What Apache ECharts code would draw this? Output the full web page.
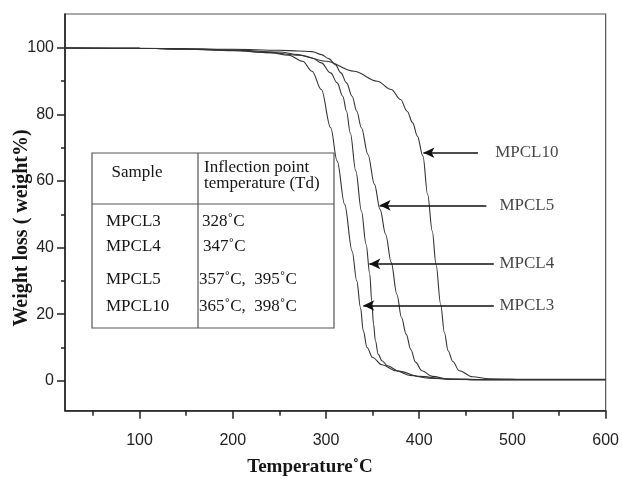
<!DOCTYPE html>
<html><head><meta charset="utf-8">
<script src="https://cdn.jsdelivr.net/npm/echarts@6/dist/echarts.min.js"></script>
<style>html,body{margin:0;padding:0;background:#fff}#c{width:622px;height:478px}</style>
</head><body><div id="c"></div>
<script>
// ---- axis ticks ----
const xMajor = [100, 200, 300, 400, 500, 600];
const xMinor = [50, 150, 250, 350, 450, 550];
const yMajor = [0, 20, 40, 60, 80, 100];
const yMinor = [10, 30, 50, 70, 90];

// ---- series (temperature °C, weight %) ----
const temp3 = [20,100,150,200,240,260,275,285,295,305,312,320,328,333,337,340,344,350,360,375,390,410,440,500,600];
const wt3   = [100,99.9,99.7,99.3,98.6,97.8,96,93,87.5,76,66,53,39,30,22,15,10,7,4.8,3,1.6,0.8,0.4,0.3,0.3];

const temp4 = [20,100,150,200,250,270,285,295,305,312,318,322,326,332,338,343,347,349,351,353,356,360,366,378,400,430,470,600];
const wt4   = [100,99.9,99.7,99.4,98.8,98,97,95.5,92.5,89.5,85.5,81,74.5,63,51,41,32,24,17,12,8,6,4.5,2.9,1.3,0.5,0.3,0.3];

const temp5 = [20,100,150,200,250,270,285,295,303,310,316,322,328,333,338,345,352,358,364,370,376,381,386,391,396,403,414,432,470,600];
const wt5   = [100,99.9,99.8,99.6,99.3,99.1,98.9,98,96.8,95,92.5,89.5,85.5,81,76,68,59,51.5,44,35.5,26,19,14,9.4,5.6,3,1.3,0.5,0.3,0.3];

const temp10 = [20,100,150,200,240,272,300,330,355,370,380,387,393,398,404,409,414,418,423,427,431,436,443,457,475,520,600];
const wt10   = [100,99.9,99.6,99.2,98.6,97.8,96,93,90,87.5,84.5,81,77.5,73.5,67.5,56,45,35,23,14.5,9,5.8,3,1.2,0.6,0.4,0.4];

// ---- annotations: arrows (tail temp, head temp, weight) and labels ----
const arrowNames = ['MPCL10', 'MPCL5', 'MPCL4', 'MPCL3'];
const arrowTail  = [463, 472, 480, 480];
const arrowHead  = [404.5, 357.5, 346.5, 340];
const arrowY     = [68.5, 52.7, 35.1, 22.6];
const labelX     = [481.5, 486, 486, 486];

// ---- table ----
const tableHeader = ['Sample', 'Inflection point', 'temperature (Td)'];
const tableSamples = ['MPCL3', 'MPCL4', 'MPCL5', 'MPCL10'];
const tableTd = ['328\u02DAC', '347\u02DAC', '357\u02DAC,  395\u02DAC', '365\u02DAC,  398\u02DAC'];

const zip = (a, b) => a.map((v, i) => [v, b[i]]);

const lineColor = '#333';
function curve(name, xs, ys) {
  return {
    name, type: 'line', data: zip(xs, ys), showSymbol: false, smooth: 0.35, smoothMonotone: 'x',
    lineStyle: { color: lineColor, width: 1.1 }, silent: true, animation: false, z: 3
  };
}

const serif = '"Liberation Serif","Times New Roman",serif';
const sans = '"Liberation Sans",Arial,sans-serif';
const txtCol = '#151515';

const rowY = [221.7, 246.7, 280, 306.5];
const rowValX = [202, 203, 199, 199];

const graphics = [
  { type: 'rect', shape: { x: 92, y: 153, width: 242, height: 175 }, style: { fill: 'none', stroke: '#555', lineWidth: 1.2 }, z: 10 },
  { type: 'line', shape: { x1: 92, y1: 204, x2: 334, y2: 204 }, style: { stroke: '#555', lineWidth: 1.2 }, z: 10 },
  { type: 'line', shape: { x1: 198, y1: 153, x2: 198, y2: 328 }, style: { stroke: '#555', lineWidth: 1.2 }, z: 10 },
  { type: 'text', x: 137, y: 173, style: { text: tableHeader[0], font: '17px ' + serif, fill: txtCol, textAlign: 'center', textVerticalAlign: 'middle' }, z: 10 },
  { type: 'text', x: 204, y: 168, style: { text: tableHeader[1], font: '17px ' + serif, fill: txtCol, textAlign: 'left', textVerticalAlign: 'middle' }, z: 10 },
  { type: 'text', x: 204, y: 184, style: { text: tableHeader[2], font: '17px ' + serif, fill: txtCol, textAlign: 'left', textVerticalAlign: 'middle' }, z: 10 },
  { type: 'text', x: 310, y: 467, style: { text: 'Temperature\u02DAC', font: 'bold 19px ' + serif, fill: txtCol, textAlign: 'center', textVerticalAlign: 'middle' }, z: 10 },
  { type: 'text', x: 22, y: 228, rotation: Math.PI / 2, style: { text: 'Weight loss ( weight%)', font: 'bold 20px ' + serif, fill: txtCol, textAlign: 'center', textVerticalAlign: 'middle' }, z: 10 }
];
tableSamples.forEach((s, i) => {
  graphics.push({ type: 'text', x: 106, y: rowY[i], style: { text: s, font: '17px ' + serif, fill: txtCol, textAlign: 'left', textVerticalAlign: 'middle' }, z: 10 });
  graphics.push({ type: 'text', x: rowValX[i], y: rowY[i], style: { text: tableTd[i], font: '17px ' + serif, fill: txtCol, textAlign: 'left', textVerticalAlign: 'middle' }, z: 10 });
});

const chart = echarts.init(document.getElementById('c'), null, { renderer: 'canvas' });
chart.setOption({
  animation: false,
  backgroundColor: '#fff',
  grid: { left: 65, right: 15.3, top: 14, bottom: 67.3, show: true, borderColor: '#555', borderWidth: 1.2 },
  xAxis: [
    { type: 'value', min: 20, max: 600, position: 'bottom',
      axisLine: { show: true, onZero: false, lineStyle: { color: '#222', width: 1.6 } },
      axisTick: { show: true, customValues: xMajor, length: 8, lineStyle: { color: '#222', width: 1.5 } },
      axisLabel: { customValues: xMajor, margin: 22, fontSize: 16, fontFamily: sans, color: '#222' },
      splitLine: { show: false } },
    { type: 'value', min: 20, max: 600, position: 'bottom',
      axisLine: { show: false, onZero: false },
      axisTick: { show: true, customValues: xMinor, length: 5, lineStyle: { color: '#222', width: 1.5 } },
      axisLabel: { show: false }, splitLine: { show: false } }
  ],
  yAxis: [
    { type: 'value', min: -9, max: 110.2, position: 'left',
      axisLine: { show: true, onZero: false, lineStyle: { color: '#222', width: 1.6 } },
      axisTick: { show: true, customValues: yMajor, length: 8, lineStyle: { color: '#222', width: 1.5 } },
      axisLabel: { customValues: yMajor, margin: 11, fontSize: 16, fontFamily: sans, color: '#222' },
      splitLine: { show: false } },
    { type: 'value', min: -9, max: 110.2, position: 'left',
      axisLine: { show: false, onZero: false },
      axisTick: { show: true, customValues: yMinor, length: 4, lineStyle: { color: '#222', width: 1.5 } },
      axisLabel: { show: false }, splitLine: { show: false } }
  ],
  series: [
    curve('MPCL3', temp3, wt3),
    curve('MPCL4', temp4, wt4),
    curve('MPCL5', temp5, wt5),
    curve('MPCL10', temp10, wt10),
    {
      name: 'arrows', type: 'line', data: [], silent: true, animation: false,
      markLine: {
        silent: true, animation: false, symbol: ['none', 'arrow'], symbolSize: [8, 11],
        lineStyle: { color: '#111', width: 1.6, type: 'solid' }, label: { show: false },
        data: arrowNames.map((n, i) => [{ coord: [arrowTail[i], arrowY[i]] }, { coord: [arrowHead[i], arrowY[i]] }])
      }
    },
    {
      name: 'labels', type: 'scatter', symbolSize: 0, silent: true, animation: false,
      data: arrowNames.map((n, i) => [labelX[i], arrowY[i], n]),
      label: { show: true, position: 'right', distance: 0, formatter: p => p.data[2], fontFamily: serif, fontSize: 17, color: txtCol }
    }
  ],
  graphic: graphics
});
</script></body></html>
